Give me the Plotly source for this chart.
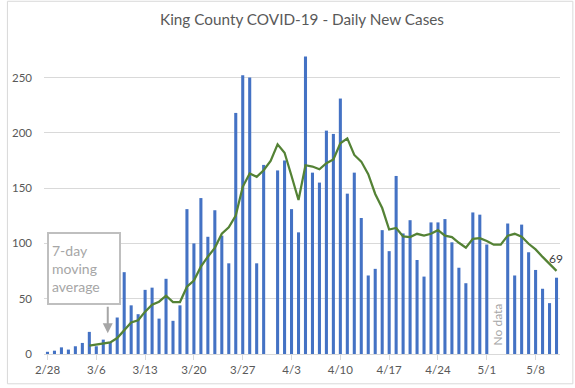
import pandas as pd
import plotly.graph_objects as go

# ---- data ----
dates = pd.date_range("2020-02-28", "2020-05-11", freq="D")

daily_cases = [
    2, 3, 6, 4, 7, 10, 20, 7, 13, 11,          # 2/28 - 3/8
    33, 74, 44, 36, 58, 60, 32, 68, 30, 44,    # 3/9 - 3/18
    131, 100, 141, 106, 130, 107, 82, 218, 252, 250,  # 3/19 - 3/28
    82, 171, None, 166, 175, 131, 110, 269, 164, 155,  # 3/29 - 4/7
    202, 199, 231, 145, 164, 123, 71, 77, 112, 93,     # 4/8 - 4/17
    161, 109, 121, 85, 70, 119, 119, 122, 101, 78,     # 4/18 - 4/27
    64, 128, 126, 99, None, None, 118, 71, 117, 92,    # 4/28 - 5/7
    76, 59, 46, 69,                                    # 5/8 - 5/11
]

moving_avg = [
    None, None, None, None, None, None, 7.5, 8.7, 9.6, 10.5,
    14.4, 21.8, 28.5, 30.5, 38.3, 44.5, 47.3, 52.7, 47.0, 47.0,
    60.8, 66.5, 79.0, 88.0, 96.0, 108.7, 114.5, 125.2, 151.2, 163.2,
    160.2, 166.2, 174.6, 189.6, 182.0, 161.0, 139.3, 170.7, 169.5, 167.0,
    172.5, 176.0, 190.5, 195.0, 180.0, 174.0, 162.6, 144.7, 132.0, 112.6,
    114.0, 106.3, 105.7, 108.7, 107.0, 108.7, 112.0, 107.0, 105.7, 100.6,
    96.1, 104.2, 104.8, 102.1, 98.8, 98.8, 107.0, 108.7, 106.0, 99.7,
    94.6, 87.8, 81.8, 75.2,
]

tick_dates = ["2020-02-28", "2020-03-06", "2020-03-13", "2020-03-20", "2020-03-27",
              "2020-04-03", "2020-04-10", "2020-04-17", "2020-04-24", "2020-05-01",
              "2020-05-08"]
tick_labels = ["2/28", "3/6", "3/13", "3/20", "3/27", "4/3", "4/10", "4/17",
               "4/24", "5/1", "5/8"]
y_ticks = [0, 50, 100, 150, 200, 250]

title_text = "King County COVID-19 - Daily New Cases"
last_label = "69"

FONT = "Lato, Carlito, Calibri, sans-serif"
GRAY_TXT = "#595959"

fig = go.Figure()
fig.add_trace(go.Bar(x=dates, y=daily_cases, marker=dict(color="#4472c4", line=dict(width=0)),
                     name="Daily new cases"))
fig.add_trace(go.Scatter(x=dates, y=moving_avg, mode="lines",
                         line=dict(color="#548235", width=2.25), name="7-day moving average"))

L, R, T, B = 38, 15, 44, 32
W, H = 575, 388
pw, ph = W - L - R, H - T - B

def px_x(px):
    return (px - L) / pw

def px_y(py):
    return (H - B - py) / ph

fig.update_layout(
    width=W, height=H,
    margin=dict(l=L, r=R, t=T, b=B),
    paper_bgcolor="white", plot_bgcolor="white",
    showlegend=False,
    bargap=0.56,
    font=dict(family=FONT, size=11.5, color=GRAY_TXT),
    title=dict(text=title_text, x=0.5, xanchor="center", y=1 - 20 / H, yanchor="middle",
               xref="paper", font=dict(family=FONT, size=15.3, color=GRAY_TXT)),
    xaxis=dict(
        range=["2020-02-27 12:00", "2020-05-11 12:00"],
        tickvals=tick_dates, ticktext=tick_labels,
        showgrid=False, showline=True, linecolor="#d9d9d9", linewidth=1,
        ticks="outside", ticklen=5, tickcolor="#d9d9d9",
        tickfont=dict(family=FONT, size=11.5, color=GRAY_TXT),
        zeroline=False,
    ),
    yaxis=dict(
        range=[0, ph / 1.113],
        tickvals=y_ticks,
        showgrid=True, gridcolor="#d9d9d9", gridwidth=1,
        zeroline=False, showline=False,
        ticks="", ticklabelstandoff=11,
        tickfont=dict(family=FONT, size=11.5, color=GRAY_TXT),
    ),
)

# chart border
fig.add_shape(type="rect", xref="paper", yref="paper",
              x0=px_x(1), x1=px_x(573), y0=px_y(386), y1=px_y(1),
              line=dict(color="#d9d9d9", width=1), fillcolor="rgba(0,0,0,0)", layer="below")

# legend-like callout box
fig.add_annotation(xref="paper", yref="paper", x=px_x(41), y=px_y(233),
                   xanchor="left", yanchor="top", showarrow=False,
                   text="7-day<br>moving<br>average", align="left",
                   width=64, height=63, borderpad=3, borderwidth=2, bordercolor="#bfbfbf",
                   bgcolor="white",
                   font=dict(family=FONT, size=14, color="#a6a6a6"))
# callout arrow
fig.add_annotation(xref="paper", yref="paper", x=px_x(102.5), y=px_y(335),
                   text="", showarrow=True, ax=0, ay=-28, axref="pixel", ayref="pixel",
                   arrowhead=2, arrowsize=1, arrowwidth=2, arrowcolor="#a6a6a6")

# no data label
fig.add_annotation(xref="paper", yref="paper", x=px_x(496.5), y=px_y(326),
                   xanchor="center", yanchor="middle",
                   text="No data", textangle=-90, showarrow=False,
                   font=dict(family=FONT, size=12, color="#a6a6a6"))

# last value label
fig.add_annotation(xref="paper", yref="paper", x=px_x(556), y=px_y(260),
                   xanchor="center", yanchor="middle",
                   text=last_label, showarrow=False,
                   font=dict(family=FONT, size=12, color="#404040"))

fig.write_html("out.html", config={"displayModeBar": False},
               post_script="document.body.style.margin='0';")
